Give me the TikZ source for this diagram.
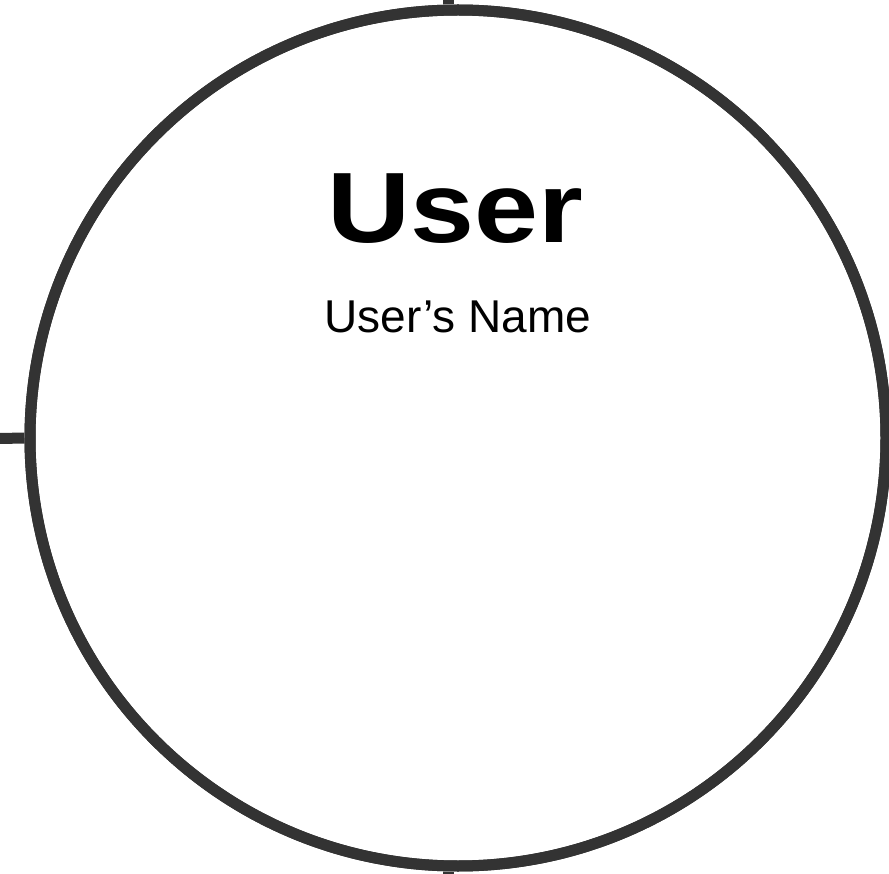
\documentclass[tikz,border=0pt]{standalone}
\usepackage{fontspec}
\setmainfont{Liberation Sans}
\definecolor{ink}{HTML}{333333}
\tikzset{
  ring/.style={circle, draw=ink, line width=11pt, minimum size=856pt, inner sep=0pt, fill=white},
  tick/.style={draw=ink, line width=11pt, line cap=butt},
  titletext/.style={anchor=base, inner sep=0pt, font=\fontsize{100}{100}\selectfont\bfseries},
  subtext/.style={anchor=base, inner sep=0pt, font=\fontsize{46}{46}\selectfont}
}
\begin{document}
\begin{tikzpicture}[x=1pt,y=-1pt]
\useasboundingbox (0,0) rectangle (889,874);
\node[ring] (c) at (458,438) {};
\coordinate (ttop) at (448,0);
\coordinate (tbot) at (448,874);
\coordinate (tleft) at (0,438.5);
\draw[tick] (ttop) -- (ttop |- c.north);
\draw[tick] (tbot) -- (tbot |- c.south);
\draw[tick] (tleft) -- (c.west);
\node[ring, fill=none] (c2) at (c.center) {};
\node[titletext] (title) at (455.5,242.5) {\scalebox{1.15}[1]{User}};
\node[subtext] (name) at (458,333) {User’s Name};
\end{tikzpicture}
\end{document}
